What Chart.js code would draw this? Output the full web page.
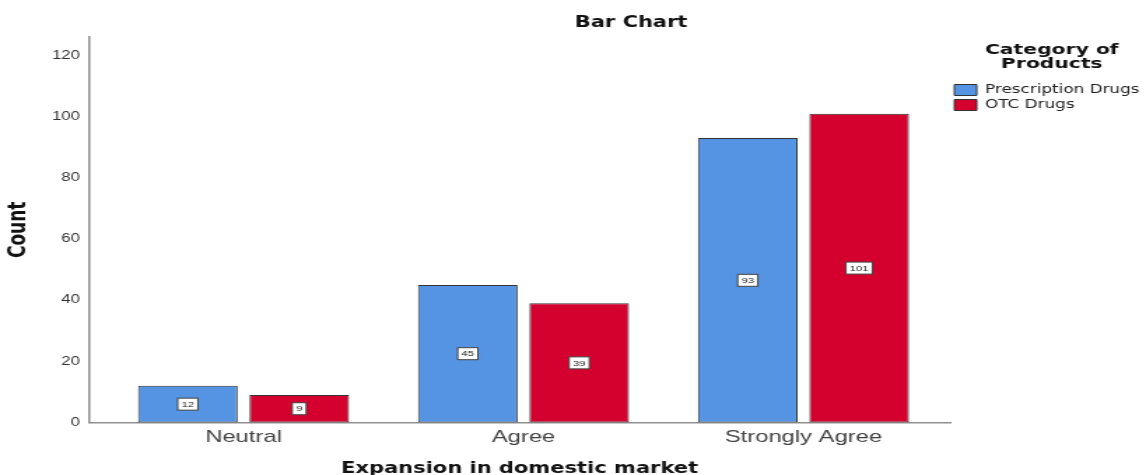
<!DOCTYPE html>
<html>
<head>
<meta charset="utf-8">
<script src="https://cdn.jsdelivr.net/npm/chart.js@4.4.1/dist/chart.umd.min.js"></script>
<style>
  html, body { margin: 0; padding: 0; background: #fff; overflow: hidden; }
  /* the source picture is an SPSS chart stretched sideways, so draw narrow and stretch */
  #wrap { width: 819px; height: 475px; transform: scaleX(1.39927); transform-origin: 0 0; }
</style>
</head>
<body>
<div id="wrap"><canvas id="chart" width="819" height="475"></canvas></div>
<script>
// data
const categories = ['Neutral', 'Agree', 'Strongly Agree'];
const prescriptionDrugs = [12, 45, 93];
const otcDrugs = [9, 39, 101];
const seriesNames = ['Prescription Drugs', 'OTC Drugs'];
const yTickValues = [0, 20, 40, 60, 80, 100, 120];

const BLUE = '#5494E2';
const RED = '#D4002D';
const EDGE = '#333333';
const AXIS = '#8f8f8f';

// small boxed count in the middle of every bar
const valueBoxes = {
    id: 'valueBoxes',
    afterDatasetsDraw(chart) {
        const ctx = chart.ctx;
        const y = chart.scales.y;
        ctx.save();
        ctx.font = '8px "Liberation Sans", Arial, sans-serif';
        ctx.textAlign = 'center';
        ctx.textBaseline = 'middle';
        chart.data.datasets.forEach((ds, i) => {
            chart.getDatasetMeta(i).data.forEach((bar, j) => {
                const v = ds.data[j];
                const cy = y.getPixelForValue(v / 2);
                const w = ctx.measureText(String(v)).width + 5.5;
                const h = 12;
                ctx.fillStyle = '#fff';
                ctx.fillRect(bar.x - w / 2, cy - h / 2, w, h);
                ctx.strokeStyle = '#444';
                ctx.lineWidth = 1;
                ctx.strokeRect(bar.x - w / 2, cy - h / 2, w, h);
                ctx.fillStyle = '#222';
                ctx.fillText(String(v), bar.x, cy + 0.5);
            });
        });
        ctx.restore();
    }
};

// chart title sits off-centre in the original
const chartTitle = {
    id: 'chartTitle',
    afterDraw(chart) {
        const ctx = chart.ctx;
        ctx.save();
        ctx.font = 'bold 15px "DejaVu Sans", sans-serif';
        ctx.fillStyle = '#111';
        ctx.textAlign = 'center';
        ctx.textBaseline = 'middle';
        ctx.fillText('Bar Chart', 451, 23);
        ctx.restore();
    }
};

new Chart(document.getElementById('chart'), {
    type: 'bar',
    data: {
        labels: categories,
        datasets: [
            {
                label: seriesNames[0],
                data: prescriptionDrugs,
                backgroundColor: BLUE,
                borderColor: EDGE,
                borderWidth: 1,
                borderSkipped: false
            },
            {
                label: seriesNames[1],
                data: otcDrugs,
                backgroundColor: RED,
                borderColor: EDGE,
                borderWidth: 1,
                borderSkipped: false
            }
        ]
    },
    options: {
        responsive: false,
        animation: false,
        devicePixelRatio: 1,
        categoryPercentage: 0.796,
        barPercentage: 0.894,
        layout: { padding: { top: 37.2, right: -5.3, bottom: 0, left: 0 } },
        plugins: {
            title: { display: false },
            tooltip: { enabled: false },
            legend: {
                position: 'right',
                align: 'start',
                title: {
                    display: true,
                    text: ['Category of', 'Products'],
                    color: '#111',
                    font: { family: '"DejaVu Sans", sans-serif', size: 14.5, weight: 'bold', lineHeight: 1 },
                    padding: { top: 5.5, bottom: 23.8 }
                },
                labels: {
                    boxWidth: 16,
                    boxHeight: 11,
                    padding: 3,
                    color: '#222',
                    font: { family: '"DejaVu Sans", sans-serif', size: 12 }
                }
            }
        },
        scales: {
            x: {
                grid: { display: false, drawTicks: false },
                border: { display: true, color: AXIS, width: 1.5 },
                ticks: {
                    padding: 5,
                    color: '#444',
                    font: { family: '"Liberation Sans", Arial, sans-serif', size: 17 }
                },
                title: {
                    display: true,
                    text: 'Expansion in domestic market',
                    color: '#111',
                    font: { family: '"DejaVu Sans", sans-serif', size: 15, weight: 'bold', lineHeight: 1 },
                    padding: { top: 0, bottom: -2 }
                },
                afterFit: (s) => { s.height = 52.5; },
                // a little more room left of the first group than the half step chart.js gives
                afterBuildTicks: (s) => { s._startValue = -0.552; s._valueRange = 3.076; }
            },
            y: {
                min: 0,
                max: 126,
                grid: { display: false, drawTicks: false },
                border: { display: true, color: AXIS, width: 1.5 },
                ticks: {
                    padding: 6.4,
                    color: '#333',
                    font: { family: '"Liberation Sans", Arial, sans-serif', size: 12 }
                },
                title: {
                    display: true,
                    text: 'Count',
                    color: '#111',
                    font: { family: '"DejaVu Sans", sans-serif', size: 17, weight: 'bold', lineHeight: 1.2 },
                    padding: { top: 3.8, bottom: 0 }
                },
                afterBuildTicks: (s) => { s.ticks = yTickValues.map(v => ({ value: v })); },
                afterFit: (s) => { s.width = 63.6; }
            }
        }
    },
    plugins: [valueBoxes, chartTitle]
});
</script>
</body>
</html>
